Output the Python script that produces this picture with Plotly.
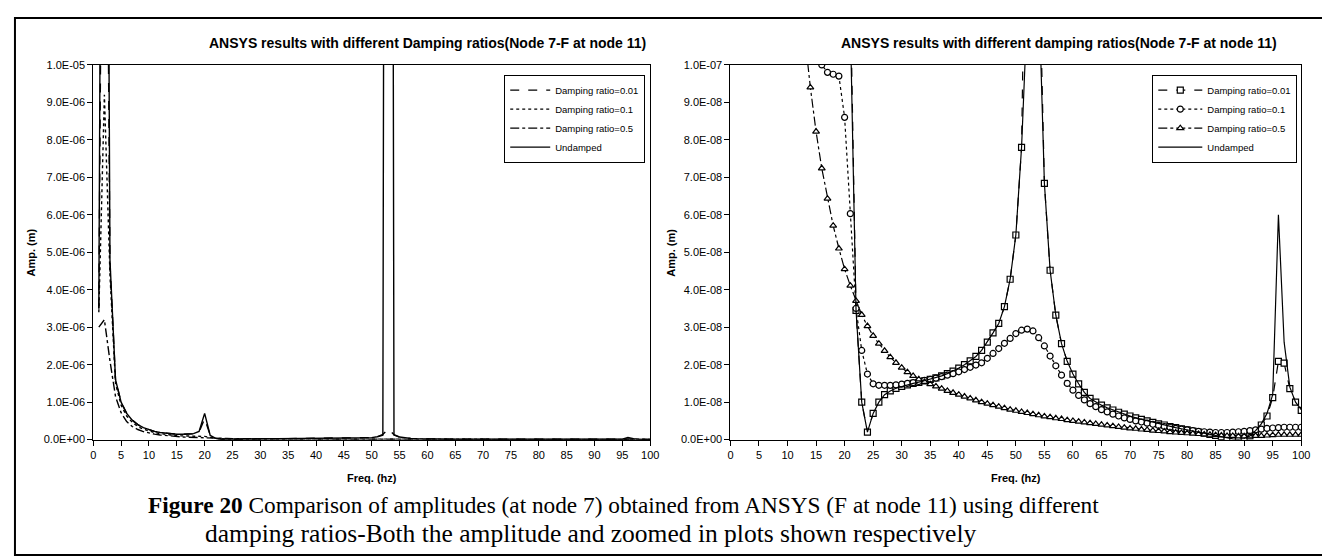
import plotly.graph_objects as go

W, H = 1330, 557

freq = list(range(1, 101))

undamped = [
    3.5e-6, 3.6e-5, 4.8e-6, 1.6e-6, 1.0e-6, 7.0e-7, 5.2e-7, 4.0e-7, 3.2e-7, 2.6e-7,
    2.2e-7, 1.9e-7, 1.7e-7, 1.55e-7, 1.45e-7, 1.42e-7, 1.45e-7, 1.6e-7, 2.2e-7, 7.0e-7,
    1.12e-7, 3.45e-8, 1.0e-8, 2.0e-9, 7.0e-9, 1.0e-8, 1.2e-8, 1.3e-8, 1.37e-8, 1.42e-8,
    1.46e-8, 1.5e-8, 1.53e-8, 1.57e-8, 1.61e-8, 1.65e-8, 1.7e-8, 1.76e-8, 1.83e-8, 1.91e-8,
    2.0e-8, 2.1e-8, 2.22e-8, 2.38e-8, 2.6e-8, 2.85e-8, 3.1e-8, 3.55e-8, 4.28e-8, 5.46e-8,
    7.8e-8, 1.15e-7, 8.0e-5, 1.21e-7, 6.84e-8, 4.52e-8, 3.32e-8, 2.56e-8, 2.09e-8, 1.75e-8,
    1.49e-8, 1.26e-8, 1.1e-8, 1.0e-8, 9.2e-9, 8.5e-9, 7.9e-9, 7.3e-9, 6.8e-9, 6.3e-9,
    5.8e-9, 5.4e-9, 5.0e-9, 4.6e-9, 4.2e-9, 3.9e-9, 3.5e-9, 3.2e-9, 2.9e-9, 2.6e-9,
    2.3e-9, 2.0e-9, 1.7e-9, 1.4e-9, 1.1e-9, 8e-10, 5e-10, 2e-10, 1e-10, 3e-10,
    1.0e-9, 2.4e-9, 4.2e-9, 7.0e-9, 1.2e-8, 6.0e-8, 2.6e-8, 1.4e-8, 1.0e-8, 8.0e-9,
]

damp_001 = [
    3.5e-6, 2.5e-5, 4.7e-6, 1.6e-6, 1.0e-6, 7.0e-7, 5.2e-7, 4.0e-7, 3.2e-7, 2.6e-7,
    2.2e-7, 1.9e-7, 1.7e-7, 1.55e-7, 1.45e-7, 1.42e-7, 1.45e-7, 1.55e-7, 2.0e-7, 5.6e-7,
    1.2e-7, 3.45e-8, 1.0e-8, 2.0e-9, 7.0e-9, 1.0e-8, 1.2e-8, 1.3e-8, 1.37e-8, 1.42e-8,
    1.46e-8, 1.5e-8, 1.53e-8, 1.57e-8, 1.61e-8, 1.65e-8, 1.7e-8, 1.76e-8, 1.83e-8, 1.91e-8,
    2.0e-8, 2.1e-8, 2.22e-8, 2.38e-8, 2.6e-8, 2.85e-8, 3.1e-8, 3.55e-8, 4.28e-8, 5.46e-8,
    7.8e-8, 1.4e-7, 2.8e-7, 1.35e-7, 6.84e-8, 4.52e-8, 3.32e-8, 2.56e-8, 2.09e-8, 1.75e-8,
    1.49e-8, 1.26e-8, 1.1e-8, 1.0e-8, 9.2e-9, 8.5e-9, 7.9e-9, 7.3e-9, 6.8e-9, 6.3e-9,
    5.8e-9, 5.4e-9, 5.0e-9, 4.6e-9, 4.2e-9, 3.9e-9, 3.5e-9, 3.2e-9, 2.9e-9, 2.6e-9,
    2.3e-9, 2.0e-9, 1.7e-9, 1.4e-9, 1.1e-9, 8e-10, 5e-10, 3e-10, 2e-10, 4e-10,
    1.0e-9, 2.2e-9, 3.9e-9, 6.3e-9, 1.12e-8, 2.09e-8, 2.04e-8, 1.36e-8, 1.0e-8, 7.8e-9,
]

damp_01 = [
    3.4e-6, 9.2e-6, 4.4e-6, 1.5e-6, 9.2e-7, 6.3e-7, 4.6e-7, 3.5e-7, 2.8e-7, 2.3e-7,
    1.9e-7, 1.6e-7, 1.35e-7, 1.15e-7, 1.03e-7, 1.0e-7, 9.8e-8, 9.75e-8, 9.7e-8, 8.6e-8,
    6.03e-8, 3.5e-8, 2.38e-8, 1.75e-8, 1.49e-8, 1.45e-8, 1.45e-8, 1.45e-8, 1.46e-8, 1.48e-8,
    1.5e-8, 1.52e-8, 1.55e-8, 1.58e-8, 1.61e-8, 1.64e-8, 1.68e-8, 1.72e-8, 1.76e-8, 1.81e-8,
    1.87e-8, 1.93e-8, 1.99e-8, 2.05e-8, 2.17e-8, 2.3e-8, 2.43e-8, 2.57e-8, 2.7e-8, 2.83e-8,
    2.92e-8, 2.95e-8, 2.9e-8, 2.72e-8, 2.5e-8, 2.23e-8, 1.97e-8, 1.72e-8, 1.5e-8, 1.32e-8,
    1.18e-8, 1.06e-8, 9.6e-9, 8.8e-9, 8.0e-9, 7.4e-9, 6.8e-9, 6.3e-9, 5.8e-9, 5.4e-9,
    5.0e-9, 4.7e-9, 4.4e-9, 4.1e-9, 3.8e-9, 3.5e-9, 3.3e-9, 3.0e-9, 2.8e-9, 2.6e-9,
    2.4e-9, 2.2e-9, 2.1e-9, 2.0e-9, 1.9e-9, 1.9e-9, 1.9e-9, 2.0e-9, 2.1e-9, 2.2e-9,
    2.4e-9, 2.6e-9, 2.8e-9, 3.0e-9, 3.1e-9, 3.2e-9, 3.3e-9, 3.3e-9, 3.3e-9, 3.3e-9,
]

damp_05 = [
    3.0e-6, 3.2e-6, 2.1e-6, 1.15e-6, 7.2e-7, 4.8e-7, 3.5e-7, 2.7e-7, 2.15e-7, 1.75e-7,
    1.47e-7, 1.25e-7, 1.08e-7, 9.4e-8, 8.22e-8, 7.24e-8, 6.43e-8, 5.71e-8, 5.1e-8, 4.55e-8,
    4.11e-8, 3.7e-8, 3.33e-8, 3.03e-8, 2.77e-8, 2.56e-8, 2.37e-8, 2.2e-8, 2.05e-8, 1.92e-8,
    1.8e-8, 1.7e-8, 1.61e-8, 1.54e-8, 1.48e-8, 1.42e-8, 1.36e-8, 1.3e-8, 1.25e-8, 1.2e-8,
    1.15e-8, 1.1e-8, 1.05e-8, 1.0e-8, 9.6e-9, 9.2e-9, 8.8e-9, 8.4e-9, 8.0e-9, 7.7e-9,
    7.4e-9, 7.1e-9, 6.8e-9, 6.5e-9, 6.2e-9, 6.0e-9, 5.7e-9, 5.5e-9, 5.2e-9, 5.0e-9,
    4.8e-9, 4.6e-9, 4.4e-9, 4.2e-9, 4.0e-9, 3.8e-9, 3.6e-9, 3.4e-9, 3.2e-9, 3.0e-9,
    2.9e-9, 2.7e-9, 2.6e-9, 2.4e-9, 2.3e-9, 2.2e-9, 2.0e-9, 1.9e-9, 1.8e-9, 1.7e-9,
    1.6e-9, 1.5e-9, 1.4e-9, 1.3e-9, 1.2e-9, 1.1e-9, 1.0e-9, 1.0e-9, 9e-10, 9e-10,
    9e-10, 1.0e-9, 1.0e-9, 1.1e-9, 1.2e-9, 1.3e-9, 1.3e-9, 1.3e-9, 1.3e-9, 1.3e-9,
]

series_names = ["Damping ratio=0.01", "Damping ratio=0.1", "Damping ratio=0.5", "Undamped"]

left_ytick_vals = [0, 1e-6, 2e-6, 3e-6, 4e-6, 5e-6, 6e-6, 7e-6, 8e-6, 9e-6, 1e-5]
left_ytick_text = ["0.0E+00", "1.0E-06", "2.0E-06", "3.0E-06", "4.0E-06", "5.0E-06",
                   "6.0E-06", "7.0E-06", "8.0E-06", "9.0E-06", "1.0E-05"]
right_ytick_vals = [0, 1e-8, 2e-8, 3e-8, 4e-8, 5e-8, 6e-8, 7e-8, 8e-8, 9e-8, 1e-7]
right_ytick_text = ["0.0E+00", "1.0E-08", "2.0E-08", "3.0E-08", "4.0E-08", "5.0E-08",
                    "6.0E-08", "7.0E-08", "8.0E-08", "9.0E-08", "1.0E-07"]

title_left = "ANSYS results with different Damping ratios(Node 7-F at node 11)"
title_right = "ANSYS results with different damping ratios(Node 7-F at node 11)"
caption1 = "<b>Figure 20</b> Comparison of amplitudes (at node 7) obtained from ANSYS (F at node 11) using different"
caption2 = "damping ratios-Both the amplitude and zoomed in plots shown respectively"


def px(x):
    return x / W


def py(y):
    return 1 - y / H


SANS = "Liberation Sans, Arial, sans-serif"
SERIF = "Liberation Serif, Times New Roman, serif"

fig = go.Figure()

data = [damp_001, damp_01, damp_05, undamped]
dashes = ["dash", "dot", "dashdot", "solid"]
symbols = ["square", "circle", "triangle-up", None]

# left plot (full amplitude)
for vals, name, dash in zip(data, series_names, dashes):
    fig.add_trace(go.Scatter(
        x=freq, y=vals, name=name, mode="lines",
        line=dict(color="black", width=1.4, dash=dash),
        xaxis="x", yaxis="y", legend="legend",
    ))

# right plot (zoomed)
for vals, name, dash, sym in zip(data, series_names, dashes, symbols):
    if sym:
        fig.add_trace(go.Scatter(
            x=freq, y=vals, name=name, mode="lines+markers",
            line=dict(color="black", width=1.2, dash=dash),
            marker=dict(symbol=sym, size=6, color="white",
                        line=dict(color="black", width=1.2)),
            xaxis="x2", yaxis="y2", legend="legend2",
        ))
    else:
        fig.add_trace(go.Scatter(
            x=freq, y=vals, name=name, mode="lines",
            line=dict(color="black", width=1.2, dash=dash),
            xaxis="x2", yaxis="y2", legend="legend2",
        ))

axis_common = dict(
    showline=True, linecolor="black", linewidth=1, mirror=True,
    ticks="outside", ticklen=5, tickcolor="black", tickwidth=1,
    showgrid=False, zeroline=False,
    tickfont=dict(family=SANS, size=11, color="black"),
)

fig.update_layout(
    width=W, height=H,
    margin=dict(l=0, r=0, t=0, b=0),
    paper_bgcolor="white", plot_bgcolor="white",
    xaxis=dict(domain=[px(83), px(645)], range=[0, 100], dtick=5, tick0=0,
               anchor="y", **axis_common),
    yaxis=dict(domain=[py(435), py(52)], range=[0, 1e-5],
               tickvals=left_ytick_vals, ticktext=left_ytick_text,
               anchor="x", **axis_common),
    xaxis2=dict(domain=[px(726), px(1302)], range=[0, 100], dtick=5, tick0=0,
                anchor="y2", **axis_common),
    yaxis2=dict(domain=[py(435), py(52)], range=[0, 1e-7],
                tickvals=right_ytick_vals, ticktext=right_ytick_text,
                anchor="x2", **axis_common),
    legend=dict(x=px(640), y=py(62), xanchor="right", yanchor="top",
                bgcolor="white", bordercolor="black", borderwidth=1,
                font=dict(family=SANS, size=9.5, color="black"),
                itemwidth=40, tracegroupgap=0),
    legend2=dict(x=px(1298), y=py(62), xanchor="right", yanchor="top",
                 bgcolor="white", bordercolor="black", borderwidth=1,
                 font=dict(family=SANS, size=9.5, color="black"),
                 itemwidth=44, tracegroupgap=0),
    showlegend=True,
)

annotations = [
    dict(text="<b>%s</b>" % title_left, x=px(420), y=py(30),
         font=dict(family=SANS, size=14, color="black")),
    dict(text="<b>%s</b>" % title_right, x=px(1058), y=py(30),
         font=dict(family=SANS, size=14, color="black")),
    dict(text="<b>Freq. (hz)</b>", x=px(364), y=py(474),
         font=dict(family=SANS, size=11, color="black")),
    dict(text="<b>Freq. (hz)</b>", x=px(1014), y=py(474),
         font=dict(family=SANS, size=11, color="black")),
    dict(text="<b>Amp. (m)</b>", x=px(20), y=py(244), textangle=-90,
         font=dict(family=SANS, size=11, color="black")),
    dict(text="<b>Amp. (m)</b>", x=px(666), y=py(244), textangle=-90,
         font=dict(family=SANS, size=11, color="black")),
    dict(text=caption1, x=px(136), y=py(502), xanchor="left",
         font=dict(family=SERIF, size=23.3, color="black")),
    dict(text=caption2, x=px(194), y=py(531), xanchor="left",
         font=dict(family=SERIF, size=25.5, color="black")),
]
for a in annotations:
    a.setdefault("xanchor", "center")
    a.update(xref="paper", yref="paper", yanchor="middle", showarrow=False)
fig.update_layout(annotations=annotations)

fig.add_shape(type="rect", xref="paper", yref="paper",
              x0=px(4), x1=px(1326), y0=py(553), y1=py(4),
              line=dict(color="black", width=2))

fig.write_html("out.html")
